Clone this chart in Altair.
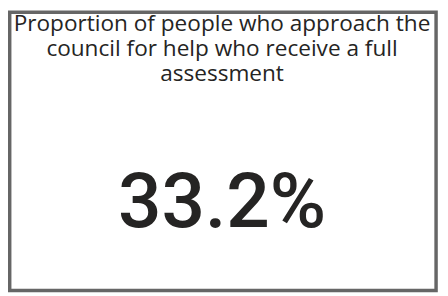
import altair as alt
import pandas as pd

title_lines = [
    "Proportion of people who approach the",
    "council for help who receive a full",
    "assessment",
]
kpi_value = ["33.2%"]

W, H = 440, 288

title_df = pd.DataFrame({"line": ["\n".join(title_lines)]})
value_df = pd.DataFrame({"value": kpi_value})
frame_df = pd.DataFrame({"k": [0]})

border = alt.Chart(frame_df).mark_rect(
    fill="white", stroke="#666666", strokeWidth=3.5
).encode(
    x=alt.value(1.75), x2=alt.value(436), y=alt.value(1.75), y2=alt.value(285)
)

title = alt.Chart(title_df).mark_text(
    font="Open Sans", fontSize=23, fontWeight=500, color="#252423",
    align="center", baseline="alphabetic", lineBreak="\n", lineHeight=25.5
).encode(
    x=alt.value(218),
    y=alt.value(20.5),
    text="line:N",
)

value = alt.Chart(value_df).mark_text(
    font="Roboto", fontSize=78, fontWeight=500, color="#252423",
    align="center", baseline="alphabetic"
).encode(
    x=alt.value(218),
    y=alt.value(220),
    text="value:N",
)

chart = alt.layer(border, title, value).properties(
    width=W, height=H,
    autosize=alt.AutoSizeParams(type="fit", contains="padding"),
    padding=0,
).configure_view(stroke=None)

chart.save("out.html", embed_options={"renderer": "svg", "actions": False})
